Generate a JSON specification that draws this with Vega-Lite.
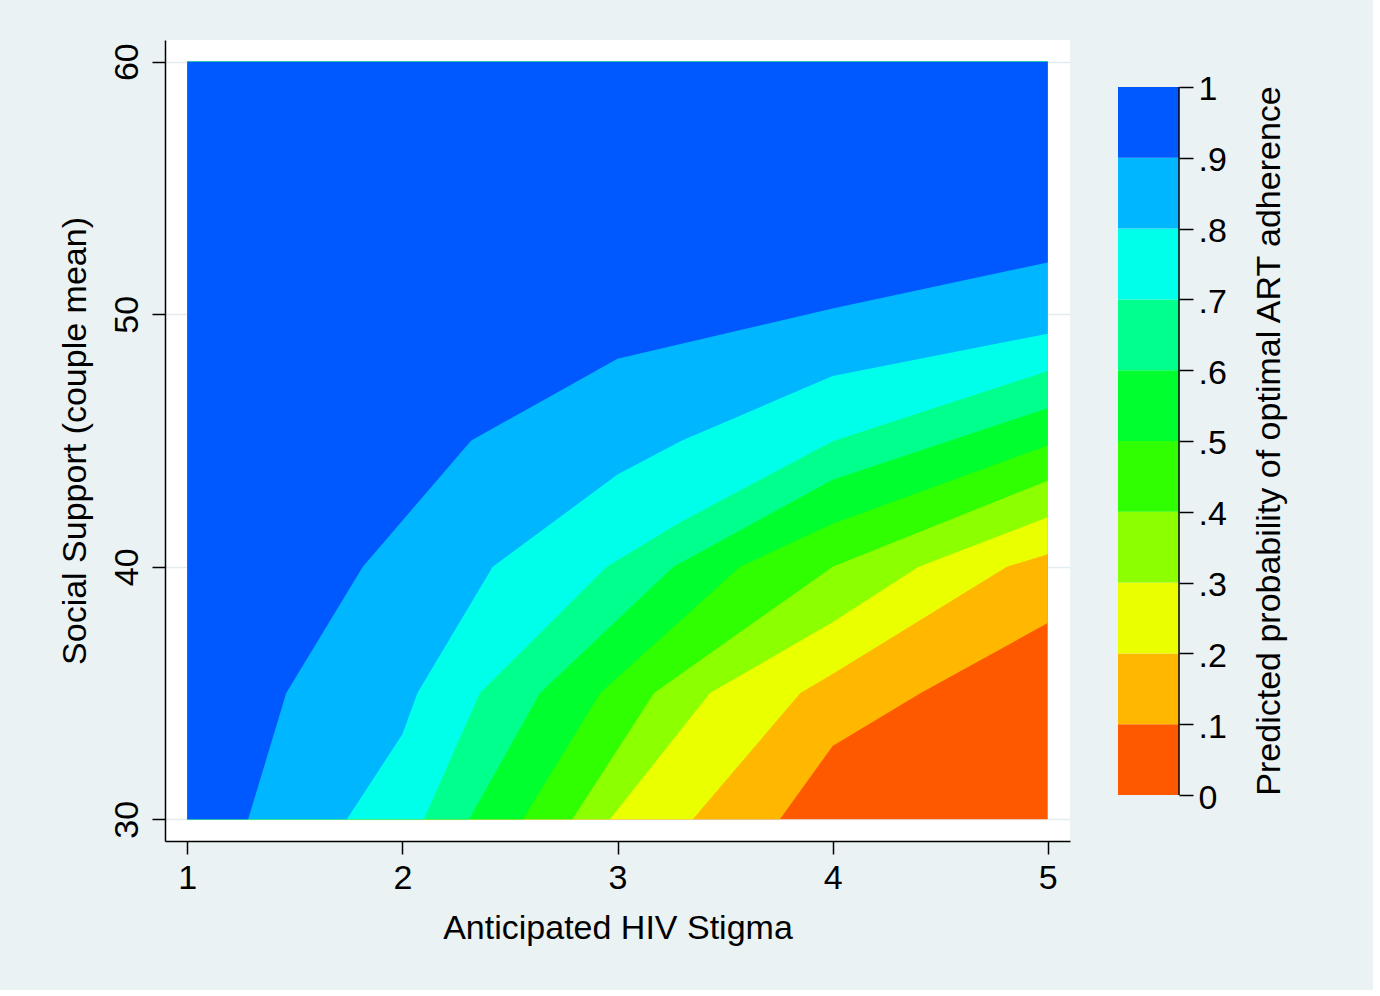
{
  "$schema": "https://vega.github.io/schema/vega-lite/v6.json",
  "background": "#eaf2f3",
  "padding": {"left": 58, "top": 40, "right": 86, "bottom": 45},
  "spacing": 48,
  "datasets": {
    "contour": [
      {"level": 0, "x": 1, "y": 30}, {"level": 0, "x": 5, "y": 30},
      {"level": 1, "x": 1, "y": 30}, {"level": 1, "x": 3.755, "y": 30}, {"level": 1, "x": 4, "y": 32.9}, {"level": 1, "x": 4.41, "y": 35}, {"level": 1, "x": 5, "y": 37.77},
      {"level": 2, "x": 1, "y": 30}, {"level": 2, "x": 3.35, "y": 30}, {"level": 2, "x": 3.85, "y": 35}, {"level": 2, "x": 4, "y": 35.75}, {"level": 2, "x": 4.81, "y": 40}, {"level": 2, "x": 5, "y": 40.5},
      {"level": 3, "x": 1, "y": 30}, {"level": 3, "x": 2.965, "y": 30}, {"level": 3, "x": 3.43, "y": 35}, {"level": 3, "x": 4, "y": 37.8}, {"level": 3, "x": 4.4, "y": 40}, {"level": 3, "x": 5, "y": 41.96},
      {"level": 4, "x": 1, "y": 30}, {"level": 4, "x": 2.79, "y": 30}, {"level": 4, "x": 3.17, "y": 35}, {"level": 4, "x": 4, "y": 40}, {"level": 4, "x": 5, "y": 43.41},
      {"level": 5, "x": 1, "y": 30}, {"level": 5, "x": 2.56, "y": 30}, {"level": 5, "x": 2.92, "y": 35}, {"level": 5, "x": 3.57, "y": 40}, {"level": 5, "x": 4, "y": 41.7}, {"level": 5, "x": 5, "y": 44.8},
      {"level": 6, "x": 1, "y": 30}, {"level": 6, "x": 2.31, "y": 30}, {"level": 6, "x": 2.64, "y": 35}, {"level": 6, "x": 3.26, "y": 40}, {"level": 6, "x": 4, "y": 43.45}, {"level": 6, "x": 5, "y": 46.28},
      {"level": 7, "x": 1, "y": 30}, {"level": 7, "x": 2.1, "y": 30}, {"level": 7, "x": 2.36, "y": 35}, {"level": 7, "x": 2.95, "y": 40}, {"level": 7, "x": 3.3, "y": 41.8}, {"level": 7, "x": 4, "y": 44.97}, {"level": 7, "x": 5, "y": 47.75},
      {"level": 8, "x": 1, "y": 30}, {"level": 8, "x": 1.742, "y": 30}, {"level": 8, "x": 2, "y": 33.37}, {"level": 8, "x": 2.07, "y": 35}, {"level": 8, "x": 2.42, "y": 40}, {"level": 8, "x": 3, "y": 43.65}, {"level": 8, "x": 3.3, "y": 45}, {"level": 8, "x": 4, "y": 47.55}, {"level": 8, "x": 5, "y": 49.23},
      {"level": 9, "x": 1, "y": 30}, {"level": 9, "x": 1.283, "y": 30}, {"level": 9, "x": 1.46, "y": 35}, {"level": 9, "x": 1.816, "y": 40}, {"level": 9, "x": 2.32, "y": 45}, {"level": 9, "x": 3, "y": 48.24}, {"level": 9, "x": 4, "y": 50.23}, {"level": 9, "x": 5, "y": 52.05}
    ],
    "bar": [
      {"level": 0, "lo": 0, "hi": 0.1}, {"level": 1, "lo": 0.1, "hi": 0.2}, {"level": 2, "lo": 0.2, "hi": 0.3},
      {"level": 3, "lo": 0.3, "hi": 0.4}, {"level": 4, "lo": 0.4, "hi": 0.5}, {"level": 5, "lo": 0.5, "hi": 0.6},
      {"level": 6, "lo": 0.6, "hi": 0.7}, {"level": 7, "lo": 0.7, "hi": 0.8}, {"level": 8, "lo": 0.8, "hi": 0.9},
      {"level": 9, "lo": 0.9, "hi": 1}
    ]
  },
  "hconcat": [
    {
      "width": 905,
      "height": 801,
      "view": {"fill": "white", "stroke": null},
      "data": {"name": "contour"},
      "mark": {"type": "area", "interpolate": "linear"},
      "encoding": {
        "x": {
          "field": "x", "type": "quantitative",
          "scale": {"domain": [0.8964, 5.1036], "nice": false, "zero": false},
          "axis": {"values": [1, 2, 3, 4, 5], "format": "d", "title": "Anticipated HIV Stigma", "grid": false, "labelPadding": 7, "titlePadding": 16}
        },
        "y": {
          "field": "y", "type": "quantitative", "stack": null,
          "scale": {"domain": [29.14, 60.86], "nice": false, "zero": false},
          "axis": {"values": [30, 40, 50, 60], "format": "d", "title": "Social Support (couple mean)", "grid": true, "labelAngle": -90, "labelPadding": 8, "titlePadding": 18}
        },
        "y2": {"datum": 60},
        "color": {
          "field": "level", "type": "ordinal",
          "scale": {"domain": [0, 1, 2, 3, 4, 5, 6, 7, 8, 9], "range": ["#ff5900", "#ffb700", "#eaff00", "#8cff00", "#2fff00", "#00ff2f", "#00ff8c", "#00ffea", "#00b7ff", "#0059ff"]},
          "legend": null
        }
      }
    },
    {
      "width": 61,
      "height": 801,
      "view": {"fill": "#eaf2f3", "stroke": null},
      "layer": [
        {
          "data": {"name": "bar"},
          "mark": {"type": "rect"},
          "encoding": {
            "x": {"datum": 0, "type": "quantitative", "scale": {"domain": [0, 1], "nice": false, "zero": false}, "axis": null},
            "x2": {"datum": 1},
            "y": {
              "field": "lo", "type": "quantitative",
              "scale": {"domain": [-0.06497, 1.06638], "nice": false, "zero": false},
              "axis": {
                "orient": "right", "values": [0, 0.1, 0.2, 0.3, 0.4, 0.5, 0.6, 0.7, 0.8, 0.9, 1],
                "labelExpr": "datum.value == 0 ? '0' : (datum.value == 1 ? '1' : '.' + round(datum.value * 10))",
                "domain": false, "grid": false, "tickSize": 14, "labelPadding": 5, "labelOffset": 3,
                "title": "Predicted probability of optimal ART adherence",
                "titleAngle": 270, "titleBaseline": "top", "titlePadding": 26
              }
            },
            "y2": {"field": "hi"},
            "color": {
              "field": "level", "type": "ordinal",
              "scale": {"domain": [0, 1, 2, 3, 4, 5, 6, 7, 8, 9], "range": ["#ff5900", "#ffb700", "#eaff00", "#8cff00", "#2fff00", "#00ff2f", "#00ff8c", "#00ffea", "#00b7ff", "#0059ff"]},
              "legend": null
            }
          }
        },
        {
          "data": {"values": [{}]},
          "mark": {"type": "rule", "color": "black", "strokeWidth": 1.5},
          "encoding": {
            "x": {"datum": 1, "type": "quantitative"},
            "y": {"datum": 0, "type": "quantitative"},
            "y2": {"datum": 1}
          }
        }
      ]
    }
  ],
  "config": {
    "font": "Liberation Sans",
    "view": {"stroke": null},
    "axis": {
      "domainColor": "black", "domainWidth": 1.5,
      "tickColor": "black", "tickWidth": 1.5, "tickSize": 13,
      "labelColor": "black", "labelFontSize": 34, "labelFont": "Liberation Sans",
      "labelOverlap": false, "labelFlush": false,
      "titleColor": "black", "titleFontSize": 34, "titleFontWeight": "normal", "titleFont": "Liberation Sans",
      "gridColor": "#e3ecee", "gridWidth": 1.5
    }
  }
}
